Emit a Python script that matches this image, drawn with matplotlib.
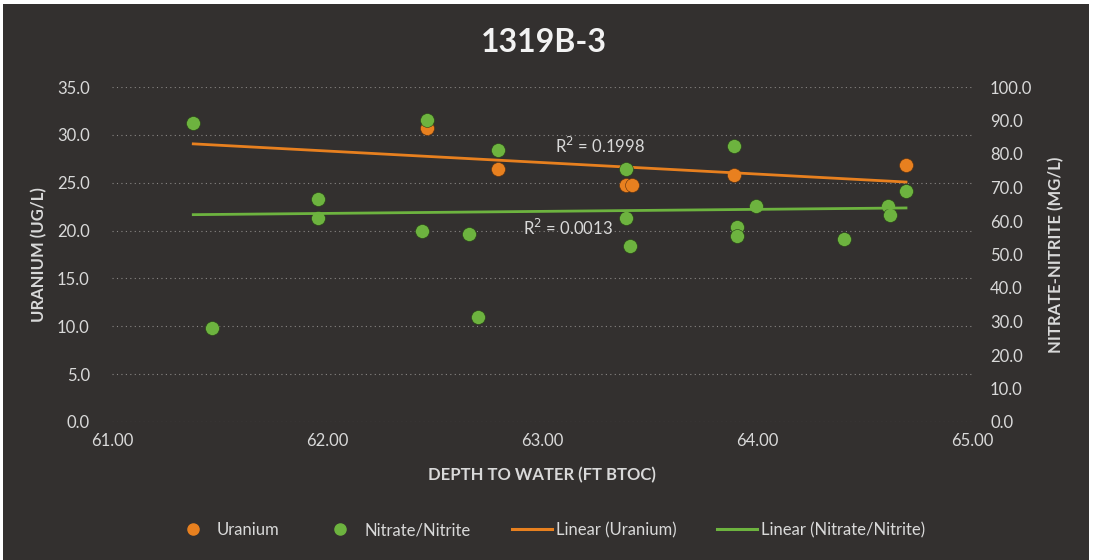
import numpy as np
import matplotlib
matplotlib.use("Agg")
import matplotlib.pyplot as plt
from matplotlib.patches import Rectangle
from matplotlib.lines import Line2D

plt.rcParams['font.family'] = ['Lato', 'DejaVu Sans']

# Depth to water (ft BTOC) and measured concentrations
uranium_depth = [62.464, 62.797, 63.391, 63.420, 63.894, 64.693]
uranium_ugl = [30.75, 26.4, 24.8, 24.8, 25.8, 26.9]

nitrate_depth = [61.378, 61.464, 61.957, 61.957, 62.440, 62.464, 62.662, 62.700,
                 62.797, 63.391, 63.391, 63.409, 63.894, 63.905, 63.905, 63.995,
                 64.406, 64.611, 64.619, 64.693]
nitrate_mgl = [89.3, 28.0, 66.5, 61.0, 57.0, 90.1, 56.0, 31.4,
               81.2, 75.4, 61.0, 52.5, 82.4, 58.3, 55.5, 64.5,
               54.5, 64.5, 61.8, 69.0]

uranium_r2_label = "R$^2$ = 0.1998"
nitrate_r2_label = "R$^2$ = 0.0013"

x_ticks = [61.0, 62.0, 63.0, 64.0, 65.0]
left_ticks = [0, 5, 10, 15, 20, 25, 30, 35]
right_ticks = [0, 10, 20, 30, 40, 50, 60, 70, 80, 90, 100]

BG = '#33302f'
TXT = '#d9d9d9'
ORANGE = '#e8801f'
GREEN = '#6db33f'

W, H = 1097, 560
fig = plt.figure(figsize=(W / 100, H / 100), dpi=100, facecolor='white')

# chart area panel behind everything
panel = Rectangle((3 / W, 0), (1089 - 3) / W, (H - 4) / H,
                  transform=fig.transFigure, facecolor=BG,
                  edgecolor='none', zorder=-10)
fig.patches.append(panel)

ax = fig.add_axes([112 / W, 1 - 422 / H, (972 - 112) / W, (422 - 87) / H])
ax.set_facecolor('none')
ax2 = ax.twinx()
ax2.set_facecolor('none')

# Linear fits across the full depth range
x_lo, x_hi = min(nitrate_depth), max(nitrate_depth)
xs = np.array([x_lo, x_hi])
u_fit = np.polyfit(uranium_depth, uranium_ugl, 1)
n_fit = np.polyfit(nitrate_depth, nitrate_mgl, 1)

ax.scatter(uranium_depth, uranium_ugl, s=100, color=ORANGE, edgecolor='#5a3010',
           linewidth=0.4, zorder=3)
ax.plot(xs, np.polyval(u_fit, xs), color=ORANGE, lw=2.0, zorder=4)

ax2.scatter(nitrate_depth, nitrate_mgl, s=100, color=GREEN, edgecolor='#254015',
            linewidth=0.4, zorder=3)
ax2.plot(xs, np.polyval(n_fit, xs), color=GREEN, lw=2.0, zorder=4)

ax.set_xlim(61, 65)
ax.set_ylim(0, 35)
ax2.set_ylim(0, 100)
ax.set_xticks(x_ticks)
ax.set_xticklabels([f"{v:.2f}" for v in x_ticks])
ax.set_yticks(left_ticks)
ax.set_yticklabels([f"{v:.1f}" for v in left_ticks])
ax2.set_yticks(right_ticks)
ax2.set_yticklabels([f"{v:.1f}" for v in right_ticks])

for a in (ax, ax2):
    for s in a.spines.values():
        s.set_visible(False)
ax.tick_params(axis='x', length=0, pad=8, labelsize=12, labelcolor=TXT)
ax.tick_params(axis='y', length=0, pad=16, labelsize=12, labelcolor=TXT)
ax2.tick_params(axis='y', length=0, pad=13, labelsize=12, labelcolor=TXT)

ax.grid(axis='y', color='#8a8785', linestyle=(0, (1, 3)), linewidth=0.8)
ax.set_axisbelow(True)

ax.set_xlabel("DEPTH TO WATER (FT BTOC)", color=TXT, fontsize=12,
              fontweight='bold', labelpad=13)
ax.set_ylabel("URANIUM (UG/L)", color=TXT, fontsize=12, fontweight='bold',
              labelpad=7)
ax2.set_ylabel("NITRATE-NITRITE (MG/L)", color=TXT, fontsize=12,
               fontweight='bold', rotation=90, labelpad=11)

ax.text(63.27, 28.8, uranium_r2_label, color=TXT, fontsize=12,
        ha='center', va='center', zorder=5)
ax.text(63.12, 20.3, nitrate_r2_label, color=TXT, fontsize=12,
        ha='center', va='center', zorder=5)

fig.text(544 / W, 1 - 42 / H, "1319B-3", color='#f2f2f2', fontsize=23,
         fontweight='bold', ha='center', va='center')

handles = [
    Line2D([], [], linestyle='none', marker='o', markersize=8, color=ORANGE),
    Line2D([], [], linestyle='none', marker='o', markersize=8, color=GREEN),
    Line2D([], [], color=ORANGE, lw=2.2),
    Line2D([], [], color=GREEN, lw=2.2),
]
labels = ["Uranium", "Nitrate/Nitrite", "Linear (Uranium)", "Linear (Nitrate/Nitrite)"]
leg = fig.legend(handles, labels, loc='center', bbox_to_anchor=(549 / W, 1 - 530 / H),
                 ncol=4, frameon=False, fontsize=12, labelcolor=TXT,
                 columnspacing=2.45, handlelength=2.4, handletextpad=0.25)

fig.savefig("out.png", dpi=100, facecolor='white')
